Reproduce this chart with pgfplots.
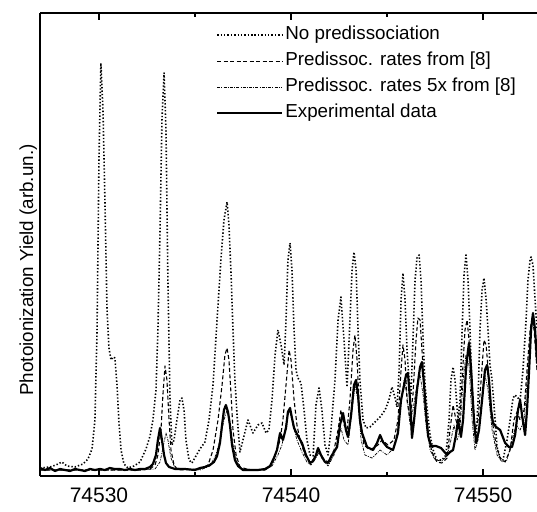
\documentclass[border=0pt]{standalone}
\usepackage{fontspec}
\setmainfont{Liberation Sans}
\usepackage{pgfplots}
\pgfplotsset{compat=1.18}
\usepackage{pgfplotstable}

\pgfplotstableread{
x y
74526.93 8
74527.45 9
74527.76 11
74528.07 14
74528.33 10
74528.75 9
74529.17 12
74529.43 17
74529.64 27
74529.79 56
74529.90 146
74530.00 316
74530.10 413
74530.21 366
74530.31 276
74530.42 166
74530.52 128
74530.63 116
74530.73 119
74530.83 118
74530.94 91
74531.04 54
74531.15 26
74531.30 12
74531.51 8
74531.82 10
74532.14 14
74532.45 27
74532.66 40
74532.81 56
74532.97 86
74533.07 146
74533.18 246
74533.28 356
74533.39 403
74533.49 346
74533.59 196
74533.70 76
74533.80 31
74533.91 36
74534.06 56
74534.22 76
74534.32 78
74534.43 66
74534.53 36
74534.69 16
74534.84 13
74535.05 20
74535.26 27
74535.52 34
74535.73 56
74535.94 91
74536.15 156
74536.35 216
74536.51 256
74536.67 274
74536.77 251
74536.88 201
74536.98 146
74537.08 96
74537.19 61
74537.34 24
74537.50 36
74537.76 56
74538.02 43
74538.28 51
74538.49 53
74538.70 43
74538.85 46
74539.01 76
74539.17 121
74539.32 146
74539.48 131
74539.64 111
74539.74 156
74539.84 216
74539.95 233
74540.05 206
74540.16 146
74540.26 106
74540.36 98
74540.52 93
74540.68 66
74540.83 36
74540.99 21
74541.15 20
74541.30 71
74541.46 88
74541.61 66
74541.77 31
74541.93 21
74542.08 46
74542.29 96
74542.45 156
74542.60 179
74542.76 136
74542.92 89
74543.07 156
74543.18 206
74543.28 224
74543.39 206
74543.49 146
74543.59 96
74543.75 56
74543.91 48
74544.11 49
74544.38 54
74544.64 59
74544.90 66
74545.10 76
74545.26 89
74545.42 78
74545.52 69
74545.63 106
74545.73 176
74545.83 203
74545.94 176
74546.04 126
74546.15 96
74546.25 81
74546.35 136
74546.46 196
74546.56 218
74546.67 221
74546.77 196
74546.88 136
74546.98 91
74547.08 69
74547.24 41
74547.40 26
74547.60 16
74547.86 16
74548.07 21
74548.23 56
74548.33 96
74548.44 109
74548.54 96
74548.70 56
74548.80 76
74548.91 146
74549.01 201
74549.11 221
74549.22 196
74549.32 146
74549.43 86
74549.53 56
74549.64 36
74549.74 76
74549.84 146
74549.95 186
74550.05 198
74550.16 176
74550.26 146
74550.36 111
74550.47 96
74550.63 56
74550.73 29
74550.89 18
74551.04 16
74551.25 36
74551.41 56
74551.56 78
74551.67 81
74551.82 78
74551.93 76
74552.08 106
74552.24 156
74552.34 196
74552.45 216
74552.50 219
74552.60 211
74552.71 176
74552.81 146
}\nopred

\pgfplotstableread{
x y
74526.93 6
74532.14 6
74532.66 7
74532.92 11
74533.07 21
74533.23 46
74533.33 81
74533.44 110
74533.54 96
74533.65 56
74533.75 26
74533.91 11
74534.11 6
74535.26 7
74535.68 11
74535.94 26
74536.20 56
74536.41 91
74536.56 121
74536.67 128
74536.77 116
74536.88 81
74536.98 46
74537.14 21
74537.34 9
74537.86 6
74538.65 6
74539.01 11
74539.27 26
74539.43 36
74539.58 56
74539.74 91
74539.90 126
74540.00 116
74540.16 76
74540.31 51
74540.47 36
74540.73 21
74540.99 14
74541.25 18
74541.41 26
74541.61 18
74541.93 14
74542.24 26
74542.45 46
74542.60 66
74542.76 51
74542.92 46
74543.07 76
74543.23 126
74543.33 141
74543.44 116
74543.59 56
74543.80 31
74544.11 26
74544.53 31
74544.74 36
74545.05 31
74545.36 36
74545.57 56
74545.73 106
74545.83 131
74545.94 116
74546.04 76
74546.20 56
74546.35 81
74546.51 136
74546.61 158
74546.72 156
74546.82 126
74546.98 76
74547.14 41
74547.34 24
74547.60 14
74547.86 13
74548.13 18
74548.28 46
74548.44 71
74548.59 56
74548.75 46
74548.91 96
74549.06 146
74549.17 156
74549.27 136
74549.43 76
74549.58 46
74549.74 56
74549.90 96
74550.05 136
74550.16 131
74550.31 96
74550.47 56
74550.68 31
74550.89 18
74551.15 14
74551.41 26
74551.61 56
74551.77 64
74551.93 56
74552.14 66
74552.29 106
74552.45 146
74552.55 158
74552.66 146
74552.81 106
}\predone

\pgfplotstableread{
x y
74526.93 6
74532.14 6
74532.92 7
74533.18 14
74533.33 28
74533.49 43
74533.59 36
74533.75 18
74533.96 8
74535.26 6
74535.78 10
74536.09 21
74536.30 36
74536.51 56
74536.67 66
74536.82 54
74536.98 31
74537.19 14
74537.45 7
74538.65 6
74539.01 10
74539.32 21
74539.53 31
74539.69 46
74539.84 61
74539.95 64
74540.10 51
74540.31 36
74540.57 24
74540.83 14
74541.04 11
74541.30 18
74541.46 24
74541.67 16
74541.93 10
74542.24 21
74542.45 36
74542.60 48
74542.76 36
74542.97 31
74543.18 66
74543.33 91
74543.49 76
74543.65 36
74543.85 21
74544.22 18
74544.64 26
74545.00 21
74545.36 28
74545.57 46
74545.73 76
74545.89 96
74546.04 81
74546.20 51
74546.35 66
74546.56 91
74546.72 101
74546.88 81
74547.03 51
74547.24 26
74547.50 16
74547.86 15
74548.13 20
74548.33 36
74548.49 51
74548.65 36
74548.80 46
74548.96 96
74549.11 121
74549.27 111
74549.43 56
74549.58 26
74549.74 36
74549.95 76
74550.10 101
74550.26 86
74550.47 46
74550.73 21
74550.99 14
74551.25 16
74551.51 36
74551.72 51
74551.93 46
74552.14 56
74552.34 106
74552.50 146
74552.60 156
74552.71 141
74552.81 106
}\predfive

\pgfplotstableread{
x y
74526.93 8
74527.19 6
74527.45 8
74527.71 5
74527.97 7
74528.23 6
74528.49 5
74528.75 7
74529.01 6
74529.27 5
74529.53 7
74529.79 6
74530.05 7
74530.31 6
74530.57 8
74530.83 7
74531.09 7
74531.35 6
74531.61 7
74531.88 6
74532.14 7
74532.40 7
74532.66 9
74532.81 12
74532.97 21
74533.07 36
74533.18 48
74533.28 36
74533.39 21
74533.49 13
74533.65 9
74533.96 7
74534.48 7
74535.00 6
74535.26 8
74535.52 9
74535.78 11
74535.99 14
74536.15 20
74536.30 33
74536.41 51
74536.51 66
74536.61 71
74536.72 64
74536.82 51
74536.93 31
74537.08 16
74537.24 10
74537.50 6
74537.86 6
74538.28 6
74538.65 7
74538.91 10
74539.11 18
74539.27 26
74539.43 43
74539.58 36
74539.74 48
74539.84 64
74539.95 68
74540.05 58
74540.16 48
74540.26 44
74540.42 38
74540.57 33
74540.78 21
74540.99 13
74541.15 15
74541.30 21
74541.41 28
74541.56 21
74541.77 14
74541.93 13
74542.14 21
74542.40 29
74542.55 51
74542.71 63
74542.86 46
74542.97 39
74543.13 61
74543.28 91
74543.39 96
74543.49 81
74543.59 56
74543.70 43
74543.96 29
74544.27 26
74544.48 33
74544.64 41
74544.79 34
74545.00 29
74545.31 26
74545.47 36
74545.57 43
74545.73 76
74545.89 91
74545.99 101
74546.09 103
74546.20 76
74546.30 38
74546.41 56
74546.56 86
74546.72 109
74546.82 114
74546.93 91
74547.03 63
74547.14 40
74547.29 30
74547.55 30
74547.81 28
74548.13 21
74548.28 24
74548.44 26
74548.59 41
74548.70 56
74548.85 39
74548.96 56
74549.11 106
74549.22 126
74549.27 133
74549.38 106
74549.53 56
74549.64 33
74549.79 46
74549.95 76
74550.10 106
74550.21 111
74550.31 96
74550.42 66
74550.52 53
74550.68 49
74550.89 46
74550.99 41
74551.15 33
74551.35 29
74551.51 29
74551.67 41
74551.82 66
74551.93 76
74552.03 61
74552.19 41
74552.29 66
74552.40 106
74552.50 146
74552.60 163
74552.71 146
74552.81 116
}\expdata

\begin{document}
\begin{tikzpicture}
\useasboundingbox (-40bp,-36bp) rectangle (497bp,476bp);
\begin{axis}[
  at={(0,0)}, anchor=south west,
  scale only axis,
  width=497bp, height=463bp,
  xmin=74526.93, xmax=74552.81,
  ymin=0, ymax=463,
  axis x line*=box, axis y line*=left,
  axis line style={line width=1.6pt},
  ytick=\empty,
  scaled x ticks=false,
  xtick={74530,74540,74550},
  xticklabels={74530,74540,74550},
  minor xtick={74535,74545},
  major tick length=7bp, minor tick length=4bp,
  tick style={line width=1.2pt, black},
  xticklabel style={font=\fontsize{21bp}{25bp}\selectfont, yshift=-8bp},
  legend cell align=left,
  legend style={draw=none, fill=none, at={(0.354,0.975)}, anchor=north west,
    inner sep=0pt, row sep=5bp,
    font=\fontsize{18.8bp}{22bp}\selectfont,
    nodes={text height=13bp, text depth=4bp, inner sep=2bp}},
  legend image code/.code={\draw[#1] (0bp,0bp) -- (65bp,0bp);},
]
\addplot[black, line width=1.6pt, dash pattern=on 1.4pt off 2pt, line join=round] table {\nopred};
\addlegendentry{No predissociation}
\addplot[black, line width=1.1pt, dash pattern=on 4pt off 2.5pt, line join=round] table {\predone};
\addlegendentry{Predissoc. rates from [8]}
\addplot[black, line width=0.7pt, dash pattern=on 3pt off 1.2pt on 1pt off 1.2pt, line join=round] table {\predfive};
\addlegendentry{Predissoc. rates 5x from [8]}
\addplot[black, line width=2.2pt, line join=round] table {\expdata};
\addlegendentry{Experimental data}
\end{axis}
\node[rotate=90, anchor=base, font=\fontsize{18.8bp}{22bp}\selectfont] at (-7bp,206bp) {Photoionization Yield (arb.un.)};
\end{tikzpicture}
\end{document}
